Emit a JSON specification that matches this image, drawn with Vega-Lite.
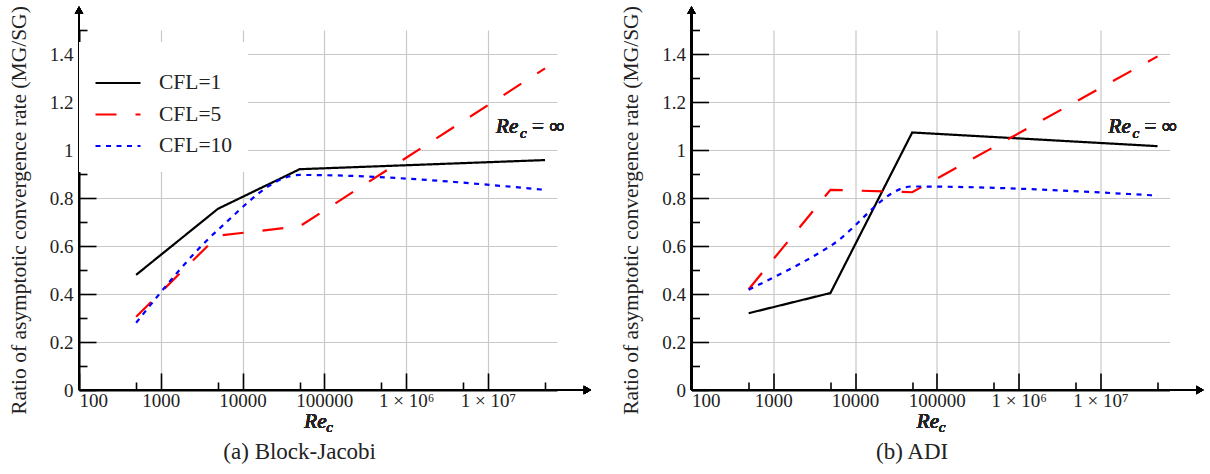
{
  "$schema": "https://vega.github.io/schema/vega-lite/v6.json",
  "background": "white",
  "padding": {"left": 8, "top": 5, "right": 0, "bottom": 0},
  "datasets": {
    "jacobi": [
      {"re": 500, "v": 0.48, "cfl": "CFL=1"},
      {"re": 5000, "v": 0.755, "cfl": "CFL=1"},
      {"re": 50000, "v": 0.92, "cfl": "CFL=1"},
      {"re": 50000000, "v": 0.958, "cfl": "CFL=1"},
      {"re": 500, "v": 0.305, "cfl": "CFL=5"},
      {"re": 5000, "v": 0.643, "cfl": "CFL=5"},
      {"re": 50000, "v": 0.682, "cfl": "CFL=5"},
      {"re": 50000000, "v": 1.34, "cfl": "CFL=5"},
      {"re": 500, "v": 0.28, "cfl": "CFL=10"},
      {"re": 5000, "v": 0.667, "cfl": "CFL=10"},
      {"re": 50000, "v": 0.896, "cfl": "CFL=10"},
      {"re": 50000000, "v": 0.834, "cfl": "CFL=10"}
    ],
    "adi": [
      {"re": 500, "v": 0.32, "cfl": "CFL=1"},
      {"re": 5000, "v": 0.404, "cfl": "CFL=1"},
      {"re": 50000, "v": 1.073, "cfl": "CFL=1"},
      {"re": 50000000, "v": 1.016, "cfl": "CFL=1"},
      {"re": 500, "v": 0.42, "cfl": "CFL=5"},
      {"re": 5000, "v": 0.834, "cfl": "CFL=5"},
      {"re": 50000, "v": 0.824, "cfl": "CFL=5"},
      {"re": 50000000, "v": 1.39, "cfl": "CFL=5"},
      {"re": 500, "v": 0.418, "cfl": "CFL=10"},
      {"re": 5000, "v": 0.6, "cfl": "CFL=10"},
      {"re": 50000, "v": 0.848, "cfl": "CFL=10"},
      {"re": 50000000, "v": 0.81, "cfl": "CFL=10"}
    ]
  },
  "config": {
    "view": {"stroke": null},
    "font": "Liberation Serif",
    "axis": {
      "labelFont": "Liberation Serif",
      "labelFontSize": 19,
      "labelColor": "#222",
      "tickColor": "black",
      "tickWidth": 1.6,
      "domainColor": "black",
      "domainWidth": 2,
      "gridColor": "#c8c8c8",
      "gridWidth": 1.2,
      "titleColor": "#222",
      "titleFont": "Liberation Serif",
      "titleFontWeight": "normal"
    },
    "legend": {
      "orient": "none",
      "legendX": 0,
      "legendY": 12,
      "fillColor": "white",
      "padding": 15,
      "symbolType": "stroke",
      "symbolSize": 2025,
      "symbolStrokeWidth": 2.2,
      "labelFont": "Liberation Serif",
      "labelFontSize": 21.5,
      "labelColor": "#222",
      "labelOffset": 17,
      "clipHeight": 20,
      "rowPadding": 9.5,
      "titleColor": "white",
      "titleFontSize": 11,
      "titlePadding": 5
    },
    "title": {"font": "Liberation Serif", "fontSize": 23, "fontWeight": "normal", "color": "#222", "orient": "bottom", "anchor": "middle", "frame": "bounds", "offset": 6}
  },
  "hconcat": [
    {
      "width": 478,
      "height": 360,
      "title": {"text": "(a) Block-Jacobi"},
      "data": {"name": "jacobi"},
      "resolve": {"axis": {"x": "independent", "y": "independent"}},
      "layer": [
        {
          "transform": [{"filter": "datum.cfl != 'CFL=10'"}],
          "mark": {"type": "line", "strokeWidth": 2.2},
          "encoding": {
            "x": {"field": "re", "type": "quantitative", "scale": {"type": "log", "domain": [100, 70000000], "nice": false},
              "axis": {"orient": "bottom", "values": [100, 1000, 10000, 100000, 1000000, 10000000], "format": "d", "labelExpr": "datum.value == 1000000 ? '1 × 10⁶' : datum.value == 10000000 ? '1 × 10⁷' : datum.label", "grid": true, "tickSize": -17, "labelPadding": 18, "title": null, "labelFlush": true, "labelOverlap": false}},
            "y": {"field": "v", "type": "quantitative", "scale": {"domain": [0, 1.5], "nice": false, "zero": false},
              "axis": {"orient": "left", "values": [0, 0.2, 0.4, 0.6, 0.8, 1, 1.2, 1.4], "format": "~g", "grid": true, "tickSize": -17, "labelPadding": 23, "labelFlush": false, "labelOverlap": false, "title": "Ratio of asymptotic convergence rate (MG/SG)", "titleFontSize": 21.5, "titlePadding": 19}},
            "color": {"field": "cfl", "type": "nominal", "scale": {"domain": ["CFL=1", "CFL=5", "CFL=10"], "range": ["#000000", "#ff0000", "#0000ff"]}, "legend": {"title": "·"}},
            "strokeDash": {"field": "cfl", "type": "nominal", "scale": {"domain": ["CFL=1", "CFL=5", "CFL=10"], "range": [[1, 0], [21, 19], [5, 5.5]]}, "legend": {"title": "·"}}
          }
        },
        {
          "transform": [{"filter": "datum.cfl == 'CFL=10'"}],
          "mark": {"type": "line", "strokeWidth": 2.2, "interpolate": "monotone"},
          "encoding": {
            "x": {"field": "re", "type": "quantitative", "axis": null},
            "y": {"field": "v", "type": "quantitative", "axis": null},
            "color": {"field": "cfl", "type": "nominal", "legend": {"title": "·"}},
            "strokeDash": {"field": "cfl", "type": "nominal", "legend": {"title": "·"}}
          }
        },
        {
          "mark": {"type": "rule", "strokeWidth": 2, "color": "black"},
          "encoding": {
            "x": {"datum": 100, "axis": {"orient": "bottom", "values": [500, 5000, 50000, 500000, 5000000, 50000000], "tickSize": -8, "labels": false, "domain": false, "grid": false, "title": null}},
            "x2": {"datum": 155000000},
            "y": {"datum": 0, "axis": null}
          }
        },
        {
          "mark": {"type": "rule", "strokeWidth": 2, "color": "black"},
          "encoding": {
            "x": {"datum": 100, "axis": null},
            "y": {"datum": 0, "axis": {"orient": "left", "values": [0.1, 0.3, 0.5, 0.7, 0.9, 1.1, 1.3, 1.5], "tickSize": -8, "labels": false, "domain": false, "grid": false, "title": null}},
            "y2": {"datum": 1.57}
          }
        },
        {
          "mark": {"type": "point", "shape": "triangle-right", "filled": true, "color": "black", "size": 70, "opacity": 1},
          "encoding": {"x": {"datum": 165000000, "axis": null}, "y": {"datum": 0, "axis": null}}
        },
        {
          "mark": {"type": "point", "shape": "triangle-up", "filled": true, "color": "black", "size": 70, "opacity": 1},
          "encoding": {"x": {"datum": 100, "axis": null}, "y": {"datum": 1.583, "axis": null}}
        },
        {
          "mark": {"type": "text", "text": "Re", "font": "Liberation Serif", "fontStyle": "italic", "fontWeight": "normal", "fontSize": 21, "align": "left", "baseline": "alphabetic", "color": "#222"},
          "encoding": {"x": {"datum": 12600000, "axis": null}, "y": {"datum": 1.071, "axis": null}}
        },
        {
          "mark": {"type": "text", "text": "c", "font": "Liberation Serif", "fontStyle": "italic", "fontWeight": "normal", "fontSize": 15, "align": "left", "baseline": "alphabetic", "dx": 24, "dy": 5, "color": "#222"},
          "encoding": {"x": {"datum": 12600000, "axis": null}, "y": {"datum": 1.071, "axis": null}}
        },
        {
          "mark": {"type": "text", "text": "= ∞", "font": "Liberation Serif", "fontWeight": "normal", "fontSize": 21, "align": "left", "baseline": "alphabetic", "dx": 36, "color": "#222"},
          "encoding": {"x": {"datum": 12600000, "axis": null}, "y": {"datum": 1.071, "axis": null}}
        },
        {
          "mark": {"type": "text", "text": "Re", "font": "Liberation Serif", "fontStyle": "italic", "fontWeight": "normal", "fontSize": 21, "align": "left", "baseline": "alphabetic", "color": "#222"},
          "encoding": {"x": {"datum": 57000, "axis": null}, "y": {"datum": -0.158, "axis": null}}
        },
        {
          "mark": {"type": "text", "text": "c", "font": "Liberation Serif", "fontStyle": "italic", "fontWeight": "normal", "fontSize": 15, "align": "left", "baseline": "alphabetic", "dx": 22, "dy": 4, "color": "#222"},
          "encoding": {"x": {"datum": 57000, "axis": null}, "y": {"datum": -0.158, "axis": null}}
        }
      ]
    },
    {
      "width": 478,
      "height": 360,
      "title": {"text": "(b) ADI"},
      "data": {"name": "adi"},
      "resolve": {"axis": {"x": "independent", "y": "independent"}},
      "layer": [
        {
          "transform": [{"filter": "datum.cfl != 'CFL=10'"}],
          "mark": {"type": "line", "strokeWidth": 2.2},
          "encoding": {
            "x": {"field": "re", "type": "quantitative", "scale": {"type": "log", "domain": [100, 70000000], "nice": false},
              "axis": {"orient": "bottom", "values": [100, 1000, 10000, 100000, 1000000, 10000000], "format": "d", "labelExpr": "datum.value == 1000000 ? '1 × 10⁶' : datum.value == 10000000 ? '1 × 10⁷' : datum.label", "grid": true, "tickSize": -17, "labelPadding": 18, "title": null, "labelFlush": true, "labelOverlap": false}},
            "y": {"field": "v", "type": "quantitative", "scale": {"domain": [0, 1.5], "nice": false, "zero": false},
              "axis": {"orient": "left", "values": [0, 0.2, 0.4, 0.6, 0.8, 1, 1.2, 1.4], "format": "~g", "grid": true, "tickSize": -17, "labelPadding": 23, "labelFlush": false, "labelOverlap": false, "title": "Ratio of asymptotic convergence rate (MG/SG)", "titleFontSize": 21.5, "titlePadding": 19}},
            "color": {"field": "cfl", "type": "nominal", "scale": {"domain": ["CFL=1", "CFL=5", "CFL=10"], "range": ["#000000", "#ff0000", "#0000ff"]}, "legend": {"title": "·"}},
            "strokeDash": {"field": "cfl", "type": "nominal", "scale": {"domain": ["CFL=1", "CFL=5", "CFL=10"], "range": [[1, 0], [21, 19], [5, 5.5]]}, "legend": {"title": "·"}}
          }
        },
        {
          "transform": [{"filter": "datum.cfl == 'CFL=10'"}],
          "mark": {"type": "line", "strokeWidth": 2.2, "interpolate": "monotone"},
          "encoding": {
            "x": {"field": "re", "type": "quantitative", "axis": null},
            "y": {"field": "v", "type": "quantitative", "axis": null},
            "color": {"field": "cfl", "type": "nominal", "legend": {"title": "·"}},
            "strokeDash": {"field": "cfl", "type": "nominal", "legend": {"title": "·"}}
          }
        },
        {
          "mark": {"type": "rule", "strokeWidth": 2, "color": "black"},
          "encoding": {
            "x": {"datum": 100, "axis": {"orient": "bottom", "values": [500, 5000, 50000, 500000, 5000000, 50000000], "tickSize": -8, "labels": false, "domain": false, "grid": false, "title": null}},
            "x2": {"datum": 155000000},
            "y": {"datum": 0, "axis": null}
          }
        },
        {
          "mark": {"type": "rule", "strokeWidth": 2, "color": "black"},
          "encoding": {
            "x": {"datum": 100, "axis": null},
            "y": {"datum": 0, "axis": {"orient": "left", "values": [0.1, 0.3, 0.5, 0.7, 0.9, 1.1, 1.3, 1.5], "tickSize": -8, "labels": false, "domain": false, "grid": false, "title": null}},
            "y2": {"datum": 1.57}
          }
        },
        {
          "mark": {"type": "point", "shape": "triangle-right", "filled": true, "color": "black", "size": 70, "opacity": 1},
          "encoding": {"x": {"datum": 165000000, "axis": null}, "y": {"datum": 0, "axis": null}}
        },
        {
          "mark": {"type": "point", "shape": "triangle-up", "filled": true, "color": "black", "size": 70, "opacity": 1},
          "encoding": {"x": {"datum": 100, "axis": null}, "y": {"datum": 1.583, "axis": null}}
        },
        {
          "mark": {"type": "text", "text": "Re", "font": "Liberation Serif", "fontStyle": "italic", "fontWeight": "normal", "fontSize": 21, "align": "left", "baseline": "alphabetic", "color": "#222"},
          "encoding": {"x": {"datum": 12600000, "axis": null}, "y": {"datum": 1.071, "axis": null}}
        },
        {
          "mark": {"type": "text", "text": "c", "font": "Liberation Serif", "fontStyle": "italic", "fontWeight": "normal", "fontSize": 15, "align": "left", "baseline": "alphabetic", "dx": 24, "dy": 5, "color": "#222"},
          "encoding": {"x": {"datum": 12600000, "axis": null}, "y": {"datum": 1.071, "axis": null}}
        },
        {
          "mark": {"type": "text", "text": "= ∞", "font": "Liberation Serif", "fontWeight": "normal", "fontSize": 21, "align": "left", "baseline": "alphabetic", "dx": 36, "color": "#222"},
          "encoding": {"x": {"datum": 12600000, "axis": null}, "y": {"datum": 1.071, "axis": null}}
        },
        {
          "mark": {"type": "text", "text": "Re", "font": "Liberation Serif", "fontStyle": "italic", "fontWeight": "normal", "fontSize": 21, "align": "left", "baseline": "alphabetic", "color": "#222"},
          "encoding": {"x": {"datum": 57000, "axis": null}, "y": {"datum": -0.158, "axis": null}}
        },
        {
          "mark": {"type": "text", "text": "c", "font": "Liberation Serif", "fontStyle": "italic", "fontWeight": "normal", "fontSize": 15, "align": "left", "baseline": "alphabetic", "dx": 22, "dy": 4, "color": "#222"},
          "encoding": {"x": {"datum": 57000, "axis": null}, "y": {"datum": -0.158, "axis": null}}
        }
      ]
    }
  ],
  "spacing": 134.5,
  "bounds": "flush"
}
